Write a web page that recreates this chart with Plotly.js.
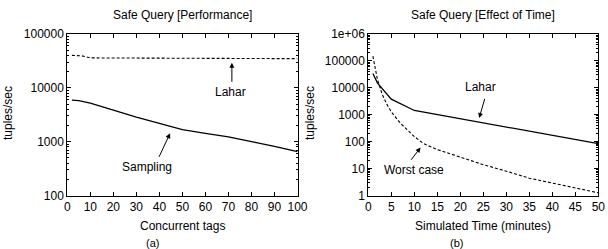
<!DOCTYPE html>
<html><head><meta charset="utf-8">
<script src="https://cdn.plot.ly/plotly-3.0.1.min.js"></script>
<style>html,body{margin:0;padding:0;background:#fff}#c{width:608px;height:249px}</style>
</head><body><div id="c"></div>
<script>
// Panel (a): Safe Query [Performance]
const tagsLahar = [2, 6, 10, 20, 50, 100];
const laharPerf = [40000, 39500, 36000, 35800, 35300, 34800];
const tagsSampling = [2, 5, 10, 20, 30, 40, 50, 60, 70, 80, 90, 100];
const samplingPerf = [5900, 5800, 5200, 3800, 2850, 2180, 1680, 1430, 1230, 1000, 820, 650];

// Panel (b): Safe Query [Effect of Time]
const timeLahar = [1, 2, 5, 10, 50];
const laharTime = [34000, 15000, 3800, 1440, 85];
const timeWorst = [1, 2, 3, 4, 5, 7, 10, 12, 15, 20, 25, 30, 35, 40, 45, 50];
const worstTime = [150000, 20000, 5900, 2500, 1280, 480, 155, 85, 51, 26, 14, 8, 4.4, 2.9, 1.9, 1.26];

// Tick labels
const yTicksA = [100, 1000, 10000, 100000];
const yTickTextA = ['100', '1000', '10000', '100000'];
const yTicksB = [1, 10, 100, 1000, 10000, 100000, 1000000];
const yTickTextB = ['1', '10', '100', '1000', '10000', '100000', '1e+06'];

const W = 608, H = 249;
const px = v => v / W, py = v => 1 - v / H;
const FONT = {family: 'Liberation Sans, Arial, Helvetica, sans-serif', size: 12, color: '#000'};

const traces = [
  {x: tagsLahar, y: laharPerf, xaxis: 'x', yaxis: 'y', mode: 'lines',
   line: {color: '#000', width: 1.1, dash: '3px,2px'}},
  {x: tagsSampling, y: samplingPerf, xaxis: 'x', yaxis: 'y', mode: 'lines',
   line: {color: '#000', width: 1.3}},
  {x: timeLahar, y: laharTime, xaxis: 'x2', yaxis: 'y2', mode: 'lines',
   line: {color: '#000', width: 1.3}},
  {x: timeWorst, y: worstTime, xaxis: 'x2', yaxis: 'y2', mode: 'lines',
   line: {color: '#000', width: 1.1, dash: '3px,2px'}}
];

const axBase = {
  showline: true, linecolor: '#000', linewidth: 1, mirror: 'allticks',
  ticks: 'inside', ticklen: 4, tickcolor: '#000', tickwidth: 1,
  showgrid: false, zeroline: false, tickfont: FONT
};
const yDom = [py(195.5), py(34)];

function lab(text, x, y, extra) {
  return Object.assign({text: text, x: px(x), y: py(y), xref: 'paper', yref: 'paper',
    xanchor: 'center', yanchor: 'middle', showarrow: false}, extra || {});
}
function arr(x, y, ax, ay, xr, yr) {
  return {text: '', x: x, y: y, xref: xr, yref: yr, showarrow: true, ax: ax, ay: ay,
    arrowhead: 2, arrowsize: 1, arrowwidth: 1, arrowcolor: '#000', standoff: 0, startstandoff: 0};
}

const layout = {
  width: W, height: H, margin: {l: 0, r: 0, t: 0, b: 0},
  paper_bgcolor: '#fff', plot_bgcolor: '#fff', showlegend: false, font: FONT,
  xaxis: Object.assign({}, axBase, {domain: [px(67.3), px(297.5)], range: [0, 100], dtick: 10, anchor: 'y'}),
  yaxis: Object.assign({}, axBase, {domain: yDom, type: 'log', range: [2, 5], anchor: 'x',
    tickmode: 'array', tickvals: yTicksA, ticktext: yTickTextA,
    minor: {ticks: 'inside', ticklen: 2, tickcolor: '#000', dtick: 'D1', showgrid: false}}),
  xaxis2: Object.assign({}, axBase, {domain: [px(368.3), px(598.3)], range: [0, 50], dtick: 5, anchor: 'y2'}),
  yaxis2: Object.assign({}, axBase, {domain: yDom, type: 'log', range: [0, 6], anchor: 'x2',
    tickmode: 'array', tickvals: yTicksB, ticktext: yTickTextB,
    minor: {ticks: 'inside', ticklen: 2, tickcolor: '#000', dtick: 'D1', showgrid: false}}),
  annotations: [
    lab('Safe Query [Performance]', 182.4, 15),
    lab('Safe Query [Effect of Time]', 483.3, 15),
    lab('Concurrent tags', 182.4, 226),
    lab('Simulated Time (minutes)', 483.3, 226),
    lab('(a)', 152, 243, {font: {size: 11}}),
    lab('(b)', 456, 243, {font: {size: 11}}),
    lab('tuples/sec', 8, 113, {textangle: -90}),
    lab('tuples/sec', 310, 113, {textangle: -90}),
    lab('Lahar', 231, 91.7),
    lab('Sampling', 146.7, 166.7),
    lab('Lahar', 480.7, 87.3),
    lab('Worst case', 414, 170),
    arr(71.5, 4.465, 0, 20.5, 'x', 'y'),
    arr(44.65, 3.155, -11.7, 25, 'x', 'y'),
    arr(24.1, 2.88, 6, -20.6, 'x2', 'y2'),
    arr(11.36, 1.78, -10.6, 13.7, 'x2', 'y2')
  ]
};

Plotly.newPlot('c', traces, layout, {staticPlot: true, displayModeBar: false});
</script></body></html>
